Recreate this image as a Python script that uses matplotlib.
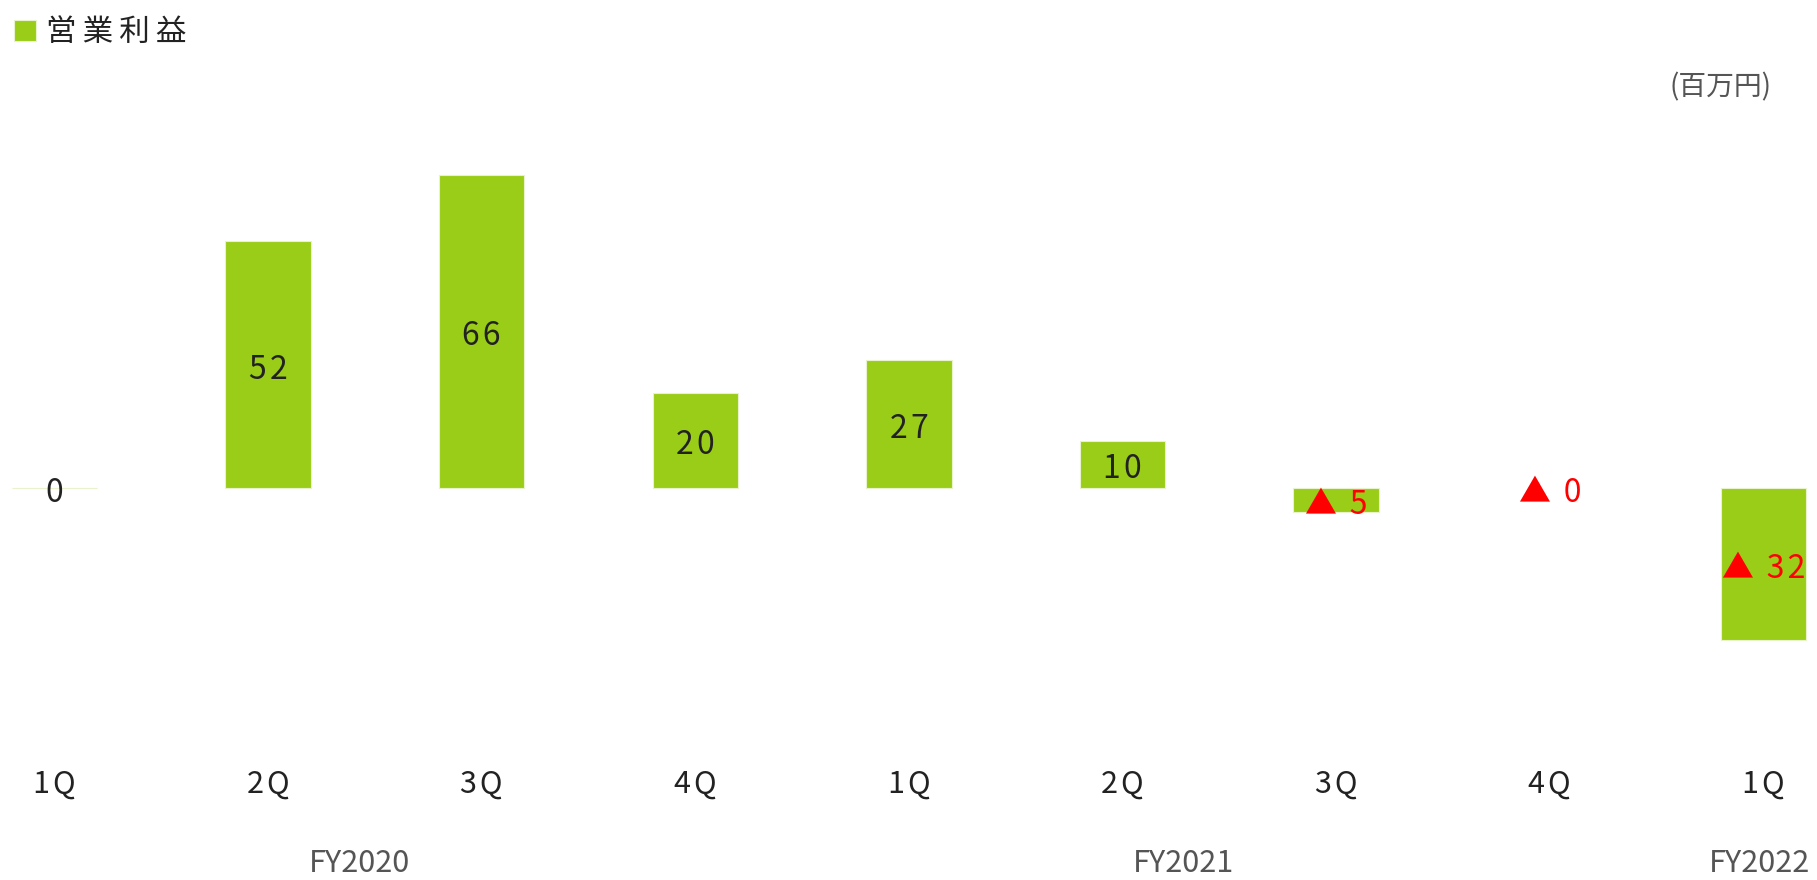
import matplotlib
matplotlib.use("Agg")
import matplotlib.pyplot as plt
import matplotlib.transforms as mtransforms

plt.rcParams['font.family'] = ['Noto Sans CJK JP', 'DejaVu Sans']

quarters = ["1Q", "2Q", "3Q", "4Q", "1Q", "2Q", "3Q", "4Q", "1Q"]
profit = [0, 52, 66, 20, 27, 10, -5, -0.04, -32]
years = ["FY2020", "FY2021", "FY2022"]
year_pos = [1.43, 5.285, 7.98]

bar_color = "#9acd17"
dark = "#222222"
grey = "#555555"
thin = "\u2009"
hair = "\u200a"


def spaced(s, gap):
    return gap.join(s)


fig = plt.figure(figsize=(18.17, 8.8), dpi=100)
ax = fig.add_axes([0, 120/880, 1, 720/880])

x = list(range(len(profit)))
edges = ["none" if -0.5 < v < 0 else "#e8f2cc" for v in profit]
bars = ax.bar(x, profit, width=0.4, color=bar_color, edgecolor=edges,
              linewidth=0.8, label=spaced("営業利益", thin))

for xi, v in zip(x, profit):
    if v >= 0:
        txt, col = spaced(str(int(round(v))), hair), dark
    else:
        txt, col = "▲" + thin + thin + spaced(str(abs(int(round(v)))), hair), "red"
    ax.annotate(txt, (xi, v/2), xytext=(0, -3.5), textcoords="offset points",
                ha="center", va="center", fontsize=23, color=col)

ax.set_xlim(-0.255, 8.251)
ax.set_ylim(-57.4, 94.5)
ax.set_yticks([])
ax.set_xticks(x)
ax.set_xticklabels([spaced(q, hair) for q in quarters], fontsize=22, color=dark)
ax.tick_params(axis="x", length=0, pad=6)
for s in ax.spines.values():
    s.set_visible(False)

trans = mtransforms.blended_transform_factory(ax.transData, fig.transFigure)
for yr, p in zip(years, year_pos):
    ax.text(p, 17/880, yr, transform=trans, ha="center", va="center",
            fontsize=22, color=grey)

fig.text(1720/1817, 1-87/880, "(百万円)", ha="center", va="center",
         fontsize=20, color=grey)

fig.legend(handles=[bars], loc="upper left", bbox_to_anchor=(-0.004, 1.005),
           frameon=False, fontsize=22, handlelength=0.7, handleheight=0.7,
           handletextpad=0.35, borderaxespad=0.3, labelcolor=dark)

fig.savefig("out.png", dpi=100)
